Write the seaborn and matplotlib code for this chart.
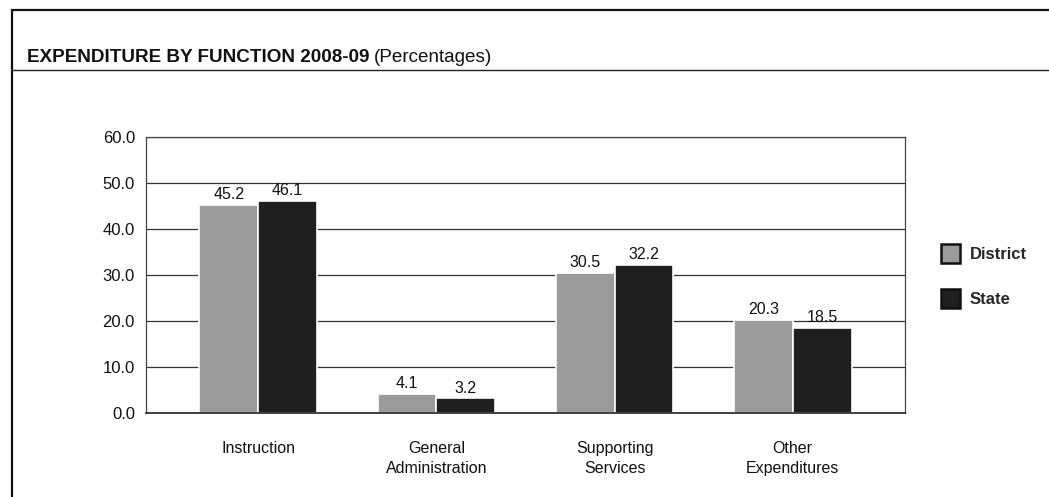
import pandas as pd
import matplotlib.pyplot as plt
import seaborn as sns
from matplotlib.lines import Line2D
from matplotlib.patches import Patch

categories = ['Instruction', 'General\nAdministration', 'Supporting\nServices', 'Other\nExpenditures']
district = [45.2, 4.1, 30.5, 20.3]
state = [46.1, 3.2, 32.2, 18.5]
series = ['District', 'State']
colors = ['#9b9b9b', '#1f1f1f']
y_ticks = [0, 10, 20, 30, 40, 50, 60]

df = pd.DataFrame({
    'category': categories * 2,
    'value': district + state,
    'series': ['District'] * len(categories) + ['State'] * len(categories),
})

sns.set_style('white')
plt.rcParams['font.family'] = ['Liberation Sans', 'DejaVu Sans']

fig = plt.figure(figsize=(10.49, 4.97), dpi=100)
ax = fig.add_axes([0.1392, 0.169, 0.7235, 0.555])

sns.barplot(data=df, x='category', y='value', hue='series', palette=colors,
            width=0.66, edgecolor='white', linewidth=1.2, ax=ax, legend=False,
            saturation=1)

for c in ax.containers:
    ax.bar_label(c, fmt='%.1f', padding=2, fontsize=11.5, color='#111111')

ax.set_ylim(0, 60)
ax.set_xlim(-0.63, 3.63)
ax.set_yticks(y_ticks)
ax.set_yticklabels([f'{t:.1f}' for t in y_ticks], fontsize=12, color='#111111')
ax.tick_params(axis='x', length=0, pad=20, labelsize=11.5, colors='#111111')
ax.tick_params(axis='y', length=0, pad=8)
for lbl in ax.get_xticklabels():
    lbl.set_linespacing(1.45)
ax.set_xlabel('')
ax.set_ylabel('')
ax.yaxis.grid(True, color='#333333', linewidth=0.9)
ax.set_axisbelow(True)
for s in ax.spines.values():
    s.set_color('#444444')
    s.set_linewidth(0.9)
ax.spines['bottom'].set_color('#222222')
ax.spines['bottom'].set_linewidth(1.2)

handles = [Patch(facecolor=colors[0], edgecolor='#111111', linewidth=1.8),
           Patch(facecolor=colors[1], edgecolor='#111111', linewidth=1.8)]
leg = fig.legend(handles, series, loc='upper left', bbox_to_anchor=(0.883, 0.54),
                 frameon=False, handlelength=1.1, handleheight=1.4,
                 labelspacing=1.55, handletextpad=0.6,
                 prop={'weight': 'bold', 'size': 12})

# page frame and title bar
fig.add_artist(Line2D([0.0115, 0.0115], [0, 0.98], color='#111111', lw=1.6))
fig.add_artist(Line2D([0.0115, 1.0], [0.98, 0.98], color='#111111', lw=1.6))
fig.add_artist(Line2D([0.0115, 1.0], [0.859, 0.859], color='#222222', lw=1.0))

t1 = fig.text(0.026, 0.875, 'EXPENDITURE BY FUNCTION 2008-09', fontsize=13.6,
              fontweight='bold', color='#111111', va='baseline')
fig.canvas.draw()
bb = t1.get_window_extent()
x2 = bb.x1 / fig.bbox.width
fig.text(x2 + 0.004, 0.875, '(Percentages)', fontsize=13.6, color='#111111', va='baseline')

fig.savefig('out.png', dpi=100)
